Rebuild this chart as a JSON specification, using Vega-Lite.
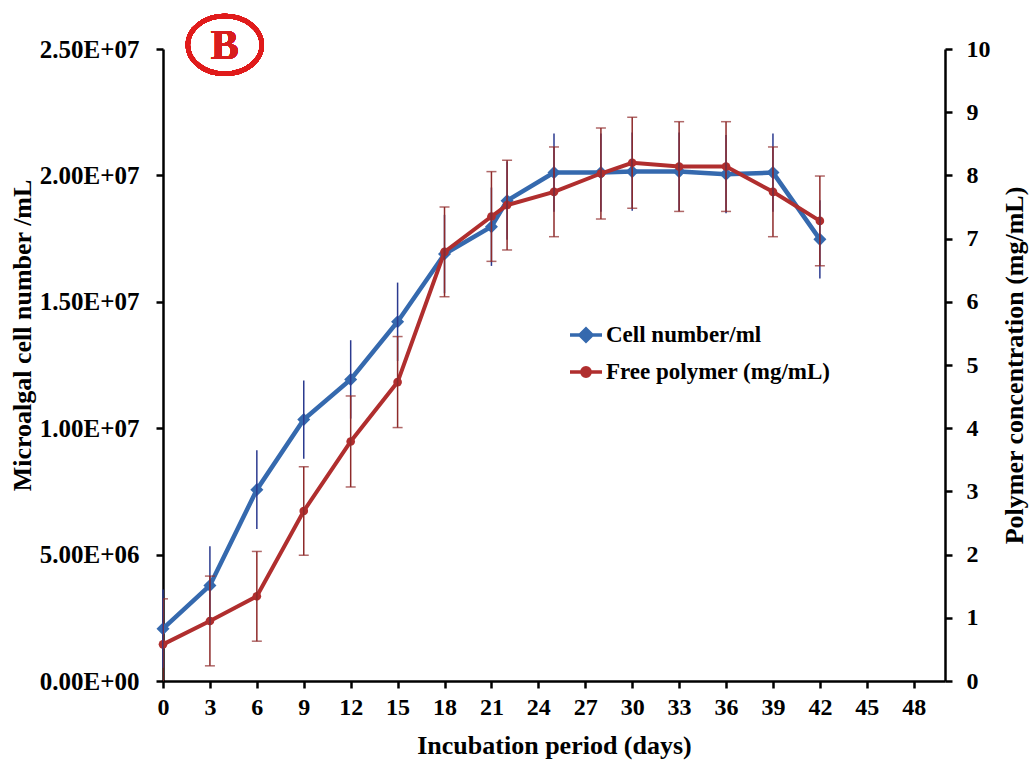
{
  "$schema": "https://vega.github.io/schema/vega-lite/v6.json",
  "width": 782,
  "height": 632,
  "autosize": {"type": "none"},
  "padding": {"left": 163, "top": 49, "right": 90, "bottom": 81},
  "background": "white",
  "data": {"values": [
    {"day": 0, "cell": 2070000, "cell_sd": 1550000, "polymer": 0.58, "polymer_sd": 0.72},
    {"day": 3, "cell": 3780000, "cell_sd": 1550000, "polymer": 0.95, "polymer_sd": 0.71},
    {"day": 6, "cell": 7570000, "cell_sd": 1560000, "polymer": 1.34, "polymer_sd": 0.71},
    {"day": 9, "cell": 10340000, "cell_sd": 1550000, "polymer": 2.69, "polymer_sd": 0.70},
    {"day": 12, "cell": 11930000, "cell_sd": 1550000, "polymer": 3.79, "polymer_sd": 0.72},
    {"day": 15, "cell": 14210000, "cell_sd": 1550000, "polymer": 4.73, "polymer_sd": 0.72},
    {"day": 18, "cell": 16890000, "cell_sd": 1550000, "polymer": 6.79, "polymer_sd": 0.71},
    {"day": 21, "cell": 17970000, "cell_sd": 1550000, "polymer": 7.35, "polymer_sd": 0.71},
    {"day": 22, "cell": 19000000, "cell_sd": 1550000, "polymer": 7.53, "polymer_sd": 0.71},
    {"day": 25, "cell": 20110000, "cell_sd": 1550000, "polymer": 7.74, "polymer_sd": 0.71},
    {"day": 28, "cell": 20110000, "cell_sd": 1550000, "polymer": 8.03, "polymer_sd": 0.72},
    {"day": 30, "cell": 20150000, "cell_sd": 1550000, "polymer": 8.20, "polymer_sd": 0.72},
    {"day": 33, "cell": 20150000, "cell_sd": 1550000, "polymer": 8.14, "polymer_sd": 0.71},
    {"day": 36, "cell": 20050000, "cell_sd": 1550000, "polymer": 8.14, "polymer_sd": 0.71},
    {"day": 39, "cell": 20110000, "cell_sd": 1550000, "polymer": 7.74, "polymer_sd": 0.71},
    {"day": 42, "cell": 17470000, "cell_sd": 1550000, "polymer": 7.28, "polymer_sd": 0.71}
  ]},
  "layer": [
    {
      "mark": {"type": "line", "strokeWidth": 4.5},
      "encoding": {
        "x": {"field": "day", "type": "quantitative", "scale": {"domain": [0, 50], "nice": false}, "axis": {"values": [0,3,6,9,12,15,18,21,24,27,30,33,36,39,42,45,48], "title": "Incubation period (days)", "labelPadding": 7, "labelFontSize": 24, "labelFlush": false, "titleY": 72, "titleBaseline": "alphabetic"}},
        "y": {"field": "cell", "type": "quantitative", "scale": {"domain": [0, 25000000], "nice": false}, "axis": {"orient": "left", "values": [0, 5000000, 10000000, 15000000, 20000000, 25000000], "labelExpr": "replace(format(datum.value, '.2e'), 'e+', 'E+0')", "labelFontSize": 25, "labelPadding": 17, "title": "Microalgal cell number /mL", "titleX": -133, "titleY": 286, "titleAngle": 270, "titleBaseline": "alphabetic", "titleAlign": "center"}},
        "color": {"datum": "Cell number/ml", "type": "nominal", "scale": {"domain": ["Cell number/ml", "Free polymer (mg/mL)"], "range": ["#3569AE", "#B02E2E"]},
          "legend": {"orient": "none", "legendX": 405, "legendY": 268, "title": null, "symbolSize": 1024, "symbolStrokeWidth": 3.5, "labelFont": "Liberation Serif", "labelFontWeight": "bold", "labelFontSize": 23, "labelColor": "black", "labelLimit": 0, "labelOffset": 2, "rowPadding": 5, "padding": 0,
            "encode": {"symbols": {"update": {
              "shape": {"signal": "datum.value === 'Cell number/ml' ? 'M-1,0H1M0,-0.38L0.38,0L0,0.38L-0.38,0Z' : 'M-1,0H1M-0.26,0A0.26,0.26 0 1,0 0.26,0A0.26,0.26 0 1,0 -0.26,0Z'"},
              "fill": {"signal": "datum.value === 'Cell number/ml' ? '#3569AE' : '#B02E2E'"},
              "stroke": {"signal": "datum.value === 'Cell number/ml' ? '#3569AE' : '#B02E2E'"},
              "opacity": {"value": 1},
              "fillOpacity": {"value": 1},
              "strokeWidth": {"value": 3.5}
            }}}}
        }
      }
    },
    {
      "mark": {"type": "point", "shape": "diamond", "filled": true, "size": 170, "opacity": 1},
      "encoding": {
        "x": {"field": "day", "type": "quantitative"},
        "y": {"field": "cell", "type": "quantitative", "scale": {"domain": [0, 25000000], "nice": false}, "axis": null},
        "color": {"datum": "Cell number/ml", "type": "nominal"}
      }
    },
    {
      "mark": {"type": "line", "strokeWidth": 4},
      "encoding": {
        "x": {"field": "day", "type": "quantitative"},
        "y": {"field": "polymer", "type": "quantitative", "scale": {"domain": [0, 10], "nice": false}, "axis": {"orient": "right", "values": [0,1,2,3,4,5,6,7,8,9,10], "format": "d", "labelFontSize": 24, "labelPadding": 14, "title": "Polymer concentration  (mg/mL)", "titleAngle": 270, "titleX": 77, "titleY": 316, "titleBaseline": "alphabetic", "titleAlign": "center"}},
        "color": {"datum": "Free polymer (mg/mL)", "type": "nominal"}
      }
    },
    {
      "mark": {"type": "point", "shape": "circle", "filled": true, "size": 75, "opacity": 1},
      "encoding": {
        "x": {"field": "day", "type": "quantitative"},
        "y": {"field": "polymer", "type": "quantitative", "scale": {"domain": [0, 10], "nice": false}, "axis": null},
        "color": {"datum": "Free polymer (mg/mL)", "type": "nominal"}
      }
    },
    {
      "mark": {"type": "errorbar", "color": "#2B3A8F", "thickness": 1.5},
      "encoding": {
        "x": {"field": "day", "type": "quantitative"},
        "y": {"field": "cell", "type": "quantitative", "scale": {"domain": [0, 25000000], "nice": false}, "axis": null, "title": null},
        "yError": {"field": "cell_sd"}
      }
    },
    {
      "mark": {"type": "errorbar", "color": "#8E2A2A", "thickness": 1.5, "ticks": {"size": 10, "thickness": 1.5, "color": "#8E2A2A"}, "clip": true},
      "encoding": {
        "x": {"field": "day", "type": "quantitative"},
        "y": {"field": "polymer", "type": "quantitative", "scale": {"domain": [0, 10], "nice": false}, "axis": null, "title": null},
        "yError": {"field": "polymer_sd"}
      }
    },
    {
      "mark": {"type": "point", "shape": "M-1,0A1,0.78 0 1,1 1,0A1,0.78 0 1,1 -1,0Z", "filled": false, "size": 5476, "stroke": "#E01B1B", "strokeWidth": 4.5, "opacity": 1},
      "encoding": {
        "x": {"datum": 3.95, "type": "quantitative"},
        "y": {"datum": 25160000, "type": "quantitative", "scale": {"domain": [0, 25000000], "nice": false}, "axis": null}
      }
    },
    {
      "mark": {"type": "text", "text": "B", "font": "Liberation Serif", "fontWeight": "bold", "fontSize": 42, "color": "#D81E1E", "baseline": "middle", "align": "center", "dy": 1},
      "encoding": {
        "x": {"datum": 3.95, "type": "quantitative"},
        "y": {"datum": 25160000, "type": "quantitative", "scale": {"domain": [0, 25000000], "nice": false}, "axis": null}
      }
    }
  ],
  "resolve": {"scale": {"y": "independent"}},
  "config": {
    "view": {"stroke": null},
    "axis": {"grid": false, "domainColor": "black", "domainWidth": 2.5, "tickColor": "black", "tickWidth": 2.5, "tickSize": 7, "labelFont": "Liberation Serif", "labelFontWeight": "bold", "labelFontSize": 22, "labelColor": "black", "titleFont": "Liberation Serif", "titleFontWeight": "bold", "titleFontSize": 26, "titleColor": "black"}
  }
}
